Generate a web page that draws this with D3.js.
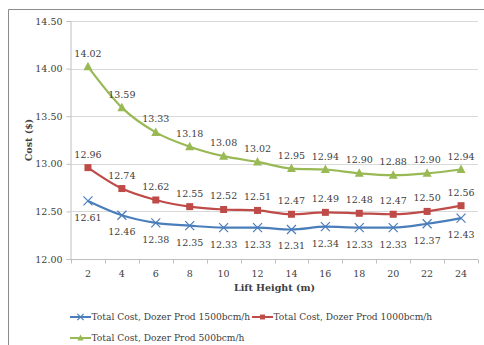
<!DOCTYPE html>
<html>
<head>
<meta charset="utf-8">
<script src="https://cdn.jsdelivr.net/npm/d3@7"></script>
<style>
  html, body { margin: 0; padding: 0; background: #fff; }
  svg text { font-family: "DejaVu Serif", "Liberation Serif", serif; fill: #404040; }
</style>
</head>
<body>
<svg id="chart" width="484" height="345"></svg>
<script>
// Lift heights (m)
const liftHeights = [2, 4, 6, 8, 10, 12, 14, 16, 18, 20, 22, 24];
// Total cost ($) per dozer productivity
const cost1500 = [12.61, 12.46, 12.38, 12.35, 12.33, 12.33, 12.31, 12.34, 12.33, 12.33, 12.37, 12.43];
const cost1000 = [12.96, 12.74, 12.62, 12.55, 12.52, 12.51, 12.47, 12.49, 12.48, 12.47, 12.50, 12.56];
const cost500  = [14.02, 13.59, 13.33, 13.18, 13.08, 13.02, 12.95, 12.94, 12.90, 12.88, 12.90, 12.94];
const yTicks = [12.00, 12.50, 13.00, 13.50, 14.00, 14.50];
const seriesNames = [
  "Total Cost, Dozer Prod 1500bcm/h",
  "Total Cost, Dozer Prod 1000bcm/h",
  "Total Cost, Dozer Prod 500bcm/h"
];

const series = [
  { name: seriesNames[0], values: cost1500, color: "#4a7ebb", marker: "x", labelPos: "below" },
  { name: seriesNames[1], values: cost1000, color: "#be4b48", marker: "square", labelPos: "above" },
  { name: seriesNames[2], values: cost500, color: "#98b954", marker: "triangle", labelPos: "above" }
];

const svg = d3.select("#chart");

// chart frame
svg.append("path")
  .attr("d", "M8.5,345 L8.5,9.5 L484,9.5")
  .attr("fill", "none").attr("stroke", "#8c8c8c").attr("stroke-width", 1);

const plot = { left: 71, right: 478, top: 21, bottom: 259 };

const x = d3.scaleBand().domain(liftHeights).range([plot.left, plot.right]).padding(0);
const y = d3.scaleLinear().domain([12, 14.5]).range([plot.bottom, plot.top]);

// horizontal gridlines
svg.append("g").selectAll("line").data(yTicks.slice(1)).join("line")
  .attr("x1", plot.left).attr("x2", plot.right)
  .attr("y1", d => Math.round(y(d)) + 0.5).attr("y2", d => Math.round(y(d)) + 0.5)
  .attr("stroke", "#d9d9d9").attr("stroke-width", 1);

// y axis
const yAxis = svg.append("g")
  .attr("transform", `translate(${plot.left - 0.5},0)`)
  .call(d3.axisLeft(y).tickValues(yTicks).tickFormat(d3.format(".2f")).tickSize(4).tickPadding(4));
yAxis.select(".domain").attr("stroke", "#bfbfbf");
yAxis.selectAll(".tick line").attr("stroke", "#bfbfbf");
yAxis.selectAll(".tick text").attr("font-size", 9.5).style("fill", "#404040");

// x axis with ticks between categories
const xAxisG = svg.append("g").attr("transform", `translate(0,${Math.round(plot.bottom) + 0.5})`);
xAxisG.append("line").attr("x1", plot.left).attr("x2", plot.right).attr("stroke", "#bfbfbf");
const boundaries = liftHeights.map(d => x(d)).concat([x(liftHeights[liftHeights.length - 1]) + x.bandwidth()]);
xAxisG.selectAll("line.tk").data(boundaries).join("line").attr("class", "tk")
  .attr("x1", d => Math.round(d) + 0.5).attr("x2", d => Math.round(d) + 0.5)
  .attr("y1", 0).attr("y2", 4).attr("stroke", "#bfbfbf");
xAxisG.selectAll("text").data(liftHeights).join("text")
  .attr("x", d => x(d) + x.bandwidth() / 2).attr("y", 17)
  .attr("text-anchor", "middle").attr("font-size", 9.5).text(d => d);

// axis titles
svg.append("text")
  .attr("transform", `translate(32,${(plot.top + plot.bottom) / 2}) rotate(-90)`)
  .attr("text-anchor", "middle").attr("font-size", 9.5).attr("font-weight", "bold")
  .text("Cost ($)");
svg.append("text")
  .attr("x", (plot.left + plot.right) / 2).attr("y", 291)
  .attr("text-anchor", "middle").attr("font-size", 9.5).attr("font-weight", "bold")
  .text("Lift Height (m)");

const cx = d => x(d) + x.bandwidth() / 2;

function drawMarker(g, type, color, k) {
  if (type === "square") {
    g.append("rect").attr("x", -3.5 * k).attr("y", -3.5 * k)
      .attr("width", 7 * k).attr("height", 7 * k).attr("fill", color);
  } else if (type === "triangle") {
    g.append("path").attr("d", `M0,${-5 * k} L${4.5 * k},${3.5 * k} L${-4.5 * k},${3.5 * k} Z`).attr("fill", color);
  } else {
    const r = 4.5 * k;
    g.append("path").attr("d", `M${-r},${-r} L${r},${r} M${-r},${r} L${r},${-r}`)
      .attr("stroke", color).attr("stroke-width", 1.2).attr("fill", "none");
  }
}

const line = d3.line().curve(d3.curveMonotoneX);

series.forEach(s => {
  const pts = s.values.map((v, i) => [cx(liftHeights[i]), y(v)]);
  svg.append("path").attr("d", line(pts))
    .attr("fill", "none").attr("stroke", s.color).attr("stroke-width", 2.2);
  pts.forEach(p => {
    drawMarker(svg.append("g").attr("transform", `translate(${p[0]},${p[1]})`), s.marker, s.color, 1);
  });
  svg.append("g").selectAll("text").data(s.values).join("text")
    .attr("x", (v, i) => cx(liftHeights[i]))
    .attr("y", v => s.labelPos === "above" ? y(v) - 10 : y(v) + 20)
    .attr("text-anchor", "middle").attr("font-size", 9.5)
    .text(v => v.toFixed(2));
});

// legend
const legendPos = [[70, 317], [252, 317], [70, 338]];
series.forEach((s, i) => {
  const [lx, ly] = legendPos[i];
  const g = svg.append("g").attr("transform", `translate(${lx},${ly})`);
  g.append("line").attr("x1", 0).attr("x2", 21).attr("y1", 0).attr("y2", 0)
    .attr("stroke", s.color).attr("stroke-width", 2);
  const m = g.append("g").attr("transform", "translate(10.5,0)");
  drawMarker(m, s.marker, s.color, 0.7);
  g.append("text").attr("x", 21.5).attr("y", 3.3).attr("font-size", 9.1).text(s.name);
});
</script>
</body>
</html>
